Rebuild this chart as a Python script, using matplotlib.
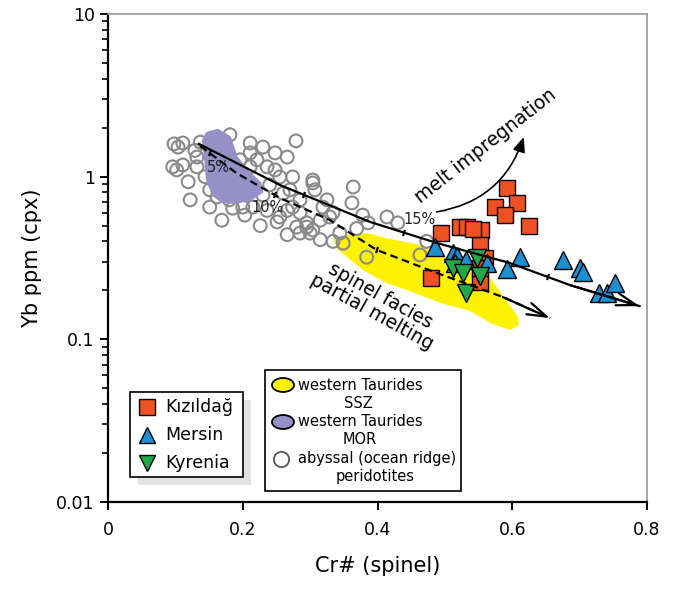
import matplotlib
matplotlib.use("Agg")
import matplotlib.pyplot as plt
import numpy as np
from matplotlib.patches import Polygon, Rectangle, Ellipse
from matplotlib.markers import MarkerStyle
from matplotlib.transforms import Affine2D

# ── Data ─────────────────────────────────────────────────────────────────────
kiz_cr = [0.592, 0.574, 0.607, 0.589, 0.625, 0.494, 0.522, 0.533, 0.553,
          0.552, 0.559, 0.479, 0.552, 0.552, 0.542]
kiz_yb = [0.852, 0.651, 0.689, 0.582, 0.498, 0.451, 0.491, 0.491, 0.470,
          0.380, 0.316, 0.238, 0.225, 0.275, 0.477]

mer_cr = [0.486, 0.512, 0.518, 0.532, 0.562, 0.611, 0.592, 0.676, 0.700,
          0.705, 0.729, 0.740, 0.753, 0.515]
mer_yb = [0.371, 0.338, 0.326, 0.308, 0.294, 0.322, 0.271, 0.308, 0.273,
          0.261, 0.192, 0.192, 0.221, 0.294]

kyr_cr = [0.548, 0.512, 0.527, 0.552, 0.531]
kyr_yb = [0.315, 0.273, 0.255, 0.245, 0.194]

aby_cr = [0.098, 0.111, 0.104, 0.137, 0.181, 0.279, 0.211, 0.230, 0.248, 0.266,
          0.102, 0.119, 0.122, 0.151, 0.169, 0.185, 0.200, 0.215, 0.236, 0.255,
          0.251, 0.266, 0.285, 0.295, 0.304, 0.315, 0.325, 0.334, 0.304, 0.304,
          0.274, 0.255, 0.236, 0.221, 0.211, 0.196, 0.211, 0.364, 0.362, 0.378,
          0.344, 0.334, 0.349, 0.369, 0.384, 0.285, 0.280, 0.260, 0.285, 0.132,
          0.132, 0.151, 0.162, 0.111, 0.096, 0.307, 0.319, 0.329, 0.386, 0.414,
          0.430, 0.300, 0.463, 0.473, 0.274, 0.295, 0.240, 0.270, 0.230, 0.248,
          0.196, 0.180, 0.203, 0.226, 0.129, 0.144, 0.315, 0.266]
aby_yb = [1.59, 1.61, 1.52, 1.63, 1.81, 1.66, 1.61, 1.52, 1.40, 1.32,
          1.10, 0.93, 0.72, 0.65, 0.54, 0.64, 0.65, 0.65, 0.62, 0.565,
          0.527, 0.62, 0.60, 0.52, 0.47, 0.54, 0.72, 0.60, 0.915, 0.954,
          0.996, 0.996, 1.15, 1.27, 1.40, 1.27, 1.15, 0.864, 0.69, 0.58,
          0.45, 0.40, 0.39, 0.48, 0.32, 0.45, 0.49, 0.79, 0.72, 1.32,
          1.15, 0.83, 0.75, 1.18, 1.15, 0.83, 0.65, 0.565, 0.52, 0.565,
          0.52, 0.45, 0.33, 0.40, 0.65, 0.49, 0.89, 0.83, 0.77, 1.10,
          0.95, 0.72, 0.58, 0.50, 1.45, 1.00, 0.41, 0.44]

# field outlines
ssz_cr = [0.337, 0.355, 0.384, 0.418, 0.463, 0.503, 0.542, 0.567, 0.586, 0.607,
          0.608, 0.597, 0.571, 0.537, 0.497, 0.448, 0.414, 0.381, 0.359, 0.341]
ssz_yb = [0.408, 0.432, 0.444, 0.408, 0.375, 0.316, 0.299, 0.232, 0.182, 0.137,
          0.123, 0.116, 0.126, 0.152, 0.168, 0.201, 0.225, 0.267, 0.316, 0.365]

mor_cr = [0.147, 0.163, 0.181, 0.191, 0.206, 0.226, 0.229, 0.211, 0.188, 0.169,
          0.156, 0.147, 0.144, 0.141]
mor_yb = [1.86, 1.94, 1.75, 1.32, 1.10, 0.915, 0.805, 0.72, 0.69, 0.70,
          0.77, 0.95, 1.32, 1.68]

# melting models
solid_cr = [0.135, 0.255, 0.389, 0.488, 0.596, 0.685, 0.789]
solid_yb = [1.59, 0.889, 0.527, 0.391, 0.295, 0.216, 0.160]
dash_cr = [0.137, 0.191, 0.255, 0.329, 0.399, 0.488, 0.586, 0.656]
dash_yb = [1.54, 1.05, 0.740, 0.542, 0.354, 0.256, 0.182, 0.135]
solid_tick_cr = [0.291, 0.439, 0.653]
dash_tick_cr = [0.151, 0.248, 0.399]
pct_labels = ["5%", "10%", "15%"]

# melt impregnation arrow (start, end)
imp_cr = [0.488, 0.617]
imp_yb = [0.607, 1.754]

# ── Colours ──────────────────────────────────────────────────────────────────
C_KIZ = "#ef5125"
C_MER = "#1b8fd2"
C_KYR = "#22a84a"
C_SSZ = "#fff200"
C_MOR = "#9590c6"
C_ABY = "#8a8a8a"

W, H = 683, 589
fig = plt.figure(figsize=(W / 100, H / 100), dpi=100)
ax = fig.add_axes([108 / W, 1 - 502 / H, 539 / W, 488 / H])
ax.set_yscale("log")
ax.set_xlim(0, 0.8)
ax.set_ylim(0.01, 10)

# fields
ax.add_patch(Polygon(np.column_stack([ssz_cr, ssz_yb]), closed=True,
                     facecolor=C_SSZ, edgecolor=C_SSZ, lw=1.5, zorder=1))
ax.scatter(aby_cr, aby_yb, s=85, facecolors="none", edgecolors=C_ABY,
           linewidths=1.5, zorder=2)
ax.add_patch(Polygon(np.column_stack([mor_cr, mor_yb]), closed=True,
                     facecolor=C_MOR, edgecolor=C_MOR, lw=1.5,
                     joinstyle="round", zorder=3))

# samples
ax.plot(kiz_cr, kiz_yb, "s", ms=12, mfc=C_KIZ, mec="black", mew=1, ls="none", zorder=4)
ax.plot(mer_cr, mer_yb, "^", ms=13, mfc=C_MER, mec="black", mew=1, ls="none", zorder=5)
ax.plot(kyr_cr, kyr_yb, "v", ms=13, mfc=C_KYR, mec="black", mew=1, ls="none", zorder=6)

# melting curves
ax.plot(solid_cr, solid_yb, color="black", lw=1.6, zorder=7)
ax.plot(dash_cr, dash_yb, color="black", lw=1.6, ls=(0, (3.5, 2)), zorder=7)
arrow_kw = dict(arrowstyle="->,head_length=0.7,head_width=0.22", lw=1.6,
                color="black", mutation_scale=20, shrinkA=0, shrinkB=0)
ax.annotate("", xy=(solid_cr[-1], solid_yb[-1]), xytext=(solid_cr[-2], solid_yb[-2]),
            arrowprops=arrow_kw, zorder=7)
ax.annotate("", xy=(dash_cr[-1], dash_yb[-1]), xytext=(dash_cr[-2], dash_yb[-2]),
            arrowprops=arrow_kw, zorder=7)

tick_mark = MarkerStyle("|", transform=Affine2D().rotate_deg(-25))
ax.plot(solid_tick_cr, 10 ** np.interp(solid_tick_cr, solid_cr, np.log10(solid_yb)),
        ls="none", marker=tick_mark, ms=5, mew=1.6, color="black", zorder=7)
ax.plot(dash_tick_cr, 10 ** np.interp(dash_tick_cr, dash_cr, np.log10(dash_yb)),
        ls="none", marker=tick_mark, ms=5, mew=1.6, color="black", zorder=7)

ax.annotate("", xy=(imp_cr[1], imp_yb[1]), xytext=(imp_cr[0], imp_yb[0]),
            arrowprops=dict(arrowstyle="-|>,head_length=0.6,head_width=0.25",
                            lw=1.2, color="black", mutation_scale=15,
                            shrinkA=0, shrinkB=0,
                            connectionstyle="arc3,rad=0.3"), zorder=8)

# ── Axes styling ─────────────────────────────────────────────────────────────
for side in ("left", "bottom"):
    ax.spines[side].set_linewidth(1.6)
for side in ("top", "right"):
    ax.spines[side].set_color("#9a9a9a")
    ax.spines[side].set_linewidth(1.2)
ax.set_xticks([0, 0.2, 0.4, 0.6, 0.8])
ax.set_xticklabels(["0", "0.2", "0.4", "0.6", "0.8"])
ax.set_yticks([0.01, 0.1, 1, 10])
ax.set_yticklabels(["0.01", "0.1", "1", "10"])
ax.tick_params(axis="both", which="major", direction="out", length=6, width=1.4,
               labelsize=12.5, colors="black")
ax.tick_params(axis="y", which="minor", direction="out", length=4, width=1.2)
ax.tick_params(axis="x", pad=8)
ax.set_xlabel("Cr# (spinel)", fontsize=15, labelpad=12)
ax.set_ylabel("Yb ppm (cpx)", fontsize=15, labelpad=10)

# ── Annotations + legends on a pixel-space overlay ───────────────────────────
ov = fig.add_axes([0, 0, 1, 1], zorder=10)
ov.set_xlim(0, W)
ov.set_ylim(H, 0)
ov.axis("off")

for (px, py), lab in zip([(218, 168), (268, 208), (420, 220)], pct_labels):
    ov.text(px, py, lab, fontsize=10.5, color="#222222", ha="center", va="center")

ov.text(486, 146, "melt impregnation", rotation=38, fontsize=13.5,
        ha="center", va="center", rotation_mode="anchor")
ov.text(376, 304, "spinel facies\npartial melting", rotation=-29, fontsize=13.5,
        ha="center", va="center", multialignment="center", rotation_mode="anchor",
        linespacing=1.0)

# legend 1
ov.add_patch(Rectangle((138, 400), 113, 85, facecolor="#e3e3e3", edgecolor="none"))
ov.add_patch(Rectangle((130, 392), 113, 85, facecolor="white", edgecolor="black", lw=1.2))
for yy, mk, col, lab in [(407, "s", C_KIZ, "Kızıldağ"), (435, "^", C_MER, "Mersin"),
                         (463, "v", C_KYR, "Kyrenia")]:
    ov.plot([147], [yy], mk, ms=12, mfc=col, mec="black", mew=1)
    ov.text(165, yy, lab, fontsize=12.5, va="center", ha="left")

# legend 2
ov.add_patch(Rectangle((265, 370), 196, 121, facecolor="white", edgecolor="black", lw=1.2))
ov.add_patch(Ellipse((283, 385), 22, 14, facecolor=C_SSZ, edgecolor="black", lw=1.3))
ov.add_patch(Ellipse((283, 422), 22, 14, facecolor=C_MOR, edgecolor="black", lw=1.3))
ov.plot([281], [459], "o", ms=11, mfc="none", mec="#555555", mew=1.3)
ov.text(298, 385, "western Taurides", fontsize=10.5, va="center")
ov.text(358, 403, "SSZ", fontsize=10.5, va="center", ha="center")
ov.text(298, 422, "western Taurides", fontsize=10.5, va="center")
ov.text(360, 440, "MOR", fontsize=10.5, va="center", ha="center")
ov.text(298, 459, "abyssal (ocean ridge)", fontsize=10.5, va="center")
ov.text(375, 477, "peridotites", fontsize=10.5, va="center", ha="center")

fig.savefig("out.png", dpi=100, facecolor="white")
